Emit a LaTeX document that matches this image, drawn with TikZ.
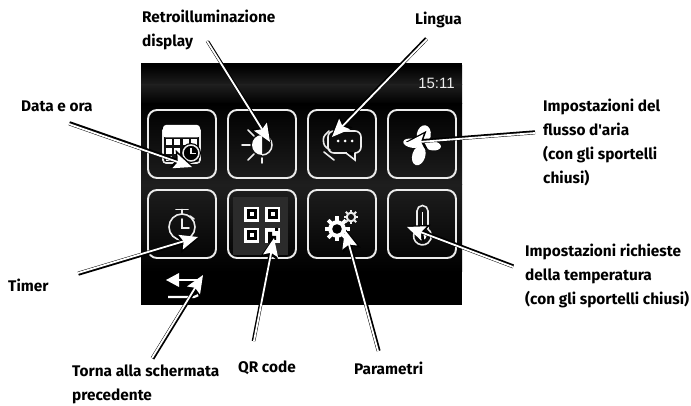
\documentclass[tikz,border=0pt]{standalone}
\usepackage{fontspec}
\newfontfamily\lblfont{Fira Sans}
\newfontfamily\clockfont{Liberation Sans}
\usetikzlibrary{arrows.meta,calc}
\definecolor{icon}{HTML}{ECECEC}
\definecolor{panelglow}{HTML}{1E1E1E}
\tikzset{
  lbl/.style={anchor=west,inner sep=0pt,align=left,font=\lblfont\bfseries\fontsize{15.4}{24}\selectfont},
  btn/.style={draw=icon,line width=1.9pt,rounded corners=9pt},
  iconline/.style={draw=icon,line width=1.6pt,line cap=round},
  calloutshadow/.style={draw=black,line width=2.8pt,-{Stealth[length=21pt,width=18pt,inset=4pt]}},
  calloutedge/.style={draw=black,line width=2.7pt},
  calloutbody/.style={draw=white,line width=1.8pt,-{Stealth[length=18pt,width=15pt,inset=3pt,fill=white]}},
}
\newcommand{\callout}[4]{%
  \draw[calloutshadow] ($(#1)+(#3,#4)$) -- ($(#2)+(#3,#4)$);
  \draw[calloutedge] (#1) -- ($(#1)!0.9!(#2)$);
  \draw[calloutbody] (#1) -- (#2);
}
\begin{document}
\begin{tikzpicture}[x=1pt,y=-1pt]
\useasboundingbox (0,0) rectangle (691,406);
% panel
\fill[black] (141,63) rectangle (462,305);
\shade[top color=black,bottom color=panelglow,draw=none] (141,66) rectangle (462,85);
\shade[top color=panelglow,bottom color=black,draw=none] (141,85) rectangle (462,104);
\shade[top color=black,bottom color=panelglow,draw=none] (141,104) rectangle (462,185);
\shade[top color=panelglow,bottom color=black,draw=none] (141,185) rectangle (462,272);
\node[anchor=center,inner sep=0pt,text=icon,font=\clockfont\fontsize{15}{15}\selectfont] (clock) at (436.5,83.5) {15:11};
% buttons
\fill[white!17!black] (233,197) rectangle (288,255);
\foreach \n/\x/\y in {a/148/110,b/228/110,c/308/110,d/388/110,e/148/190,f/228/190,g/308/190,h/388/190}
  \draw[btn] (\x,\y) rectangle ++(68,68);
% calendar
\draw[iconline,rounded corners=3pt] (163,130) -- (163,163) -- (200,163) -- (200,130);
\fill[white,rounded corners=3pt] (163,125) rectangle (200,137.5);
\foreach \x in {165.5,174,182.5,191}{\foreach \y in {139.5,148}{\fill[white] (\x,\y) rectangle ++(6,6);}}
\fill[white] (165.5,156.5) rectangle ++(6,5);
\fill[black] (191,153) circle (10);
\draw[icon,line width=1.5pt] (191,153) circle (8);
\draw[icon,line width=1.3pt] (191,148) -- (191,153.5) -- (196,153.5);
% brightness
\fill[white] (262,135) arc (270:90:10) -- cycle;
\draw[icon,line width=1.5pt] (262,135) arc (-90:90:10);
\foreach \a/\b/\c/\d in {242/145/250/145,248/130/254/136,248/160/254/154,262/127/262/132,262/158/262/163}
  \draw[iconline] (\a,\b) -- (\c,\d);
% chat
\draw[iconline,rounded corners=3pt] (330,150) -- (324,146) -- (323,137) -- (329,131);
\draw[iconline] (324,152) -- (334,160);
\draw[iconline,rounded corners=6pt] (328,131) rectangle (361,153);
\fill[black] (347,152) rectangle (355,155);
\draw[iconline] (346,153) -- (355,160) -- (355,153);
\foreach \x in {338,345,352} \fill[white] (\x,141) circle (1.5);
% fan
\fill[white,rotate around={80:(422,145)}] (432,145) ellipse (10 and 7);
\fill[white,rotate around={-5:(422,145)}] (433,145) ellipse (8 and 4.5);
\fill[white,rotate around={-107:(422,145)}] (433,145) ellipse (10 and 6.5);
\fill[white,rotate around={170:(422,145)}] (432,145) ellipse (9 and 4.5);
% stopwatch
\draw[icon,line width=1.6pt] (182,227) circle (13);
\draw[iconline] (176,209.5) -- (188,209.5) (182,209.5) -- (182,214);
\draw[iconline] (190,216) -- (194,219);
\draw[iconline] (182,219) -- (182,228) -- (189,228);
% QR
\foreach \x/\y in {244/207,265/207,244/228}{
  \fill[white] (\x,\y) rectangle ++(15,15);
  \fill[black] (\x+2.5,\y+2.5) rectangle ++(10,10);
  \fill[white] (\x+5.5,\y+5.5) rectangle ++(4,4);
}
\fill[white] (265,228) rectangle (280,243);
\fill[black] (268,232) rectangle (272,243) (275,228) rectangle (278,231) (272,236) rectangle (276,240);
% gears
\fill[white] (337,229) circle (8.8);
\foreach \a in {0,45,...,315} \draw[white,line width=3.6pt] (337,229) ++(\a:7) -- ++(\a:5.5);
\fill[black] (337,229) circle (4.8);
\draw[icon,line width=2pt] (351,217) circle (4.3);
\foreach \a in {0,45,...,315} \draw[icon,line width=1.8pt] (351,217) ++(\a:4.5) -- ++(\a:2.8);
% thermometer
\draw[iconline] (417,229) -- (417,211) arc (180:360:5.5) -- (428,229);
\draw[iconline] (417,229) arc (232:-52:8.9);
\draw[white,line width=1.6pt] (422.5,212) -- (422.5,236);
\fill[white] (422.5,236) circle (4);
% back
\fill[white] (166,280) -- (179,273) -- (179,287) -- cycle;
\draw[white,line width=2.4pt] (178,280) -- (198,280);
\draw[white,line width=2.2pt] (168,297) -- (194,297) arc (90:0:5);
% anchors
\coordinate (dataS) at (69,124);  \coordinate (dataT) at (192,167);
\coordinate (retroS) at (207,41); \coordinate (retroT) at (270,142);
\coordinate (lingS) at (427,39);  \coordinate (lingT) at (332,137);
\coordinate (fanS) at (535,133);  \coordinate (fanT) at (406,143);
\coordinate (timS) at (78,273);   \coordinate (timT) at (198,237);
\coordinate (backS) at (152,358); \coordinate (backT) at (203,275);
\coordinate (qrS) at (254,341);   \coordinate (qrT) at (274,238);
\coordinate (parS) at (378,351);  \coordinate (parT) at (345,230);
\coordinate (tempS) at (513,267); \coordinate (tempT) at (407,227);
\callout{dataS}{dataT}{0.6}{-1.4}
\callout{retroS}{retroT}{1}{0.5}
\callout{lingS}{lingT}{-0.9}{-0.8}
\callout{fanS}{fanT}{0}{-1.3}
\callout{timS}{timT}{0.5}{1.3}
\callout{backS}{backT}{1}{0.8}
\callout{qrS}{qrT}{-0.9}{0}
\callout{parS}{parT}{1.2}{-0.3}
\callout{tempS}{tempT}{0.5}{-1.2}
% labels
\node[lbl] (ldata) at (21,106) {Data e ora};
\node[lbl] (lretro) at (142,30) {Retroilluminazione\\display};
\node[lbl] (lling) at (415,20) {Lingua};
\node[lbl] (lfan) at (543,142) {Impostazioni del\\flusso d'aria\\(con gli sportelli\\chiusi)};
\node[lbl] (ltim) at (8,285) {Timer};
\node[lbl] (lback) at (72,384) {Torna alla schermata\\precedente};
\node[lbl] (lqr) at (238,368) {QR code};
\node[lbl] (lpar) at (354,368) {Parametri};
\node[lbl] (ltemp) at (525,276) {Impostazioni richieste\\della temperatura\\(con gli sportelli chiusi)};
\end{tikzpicture}
\end{document}
